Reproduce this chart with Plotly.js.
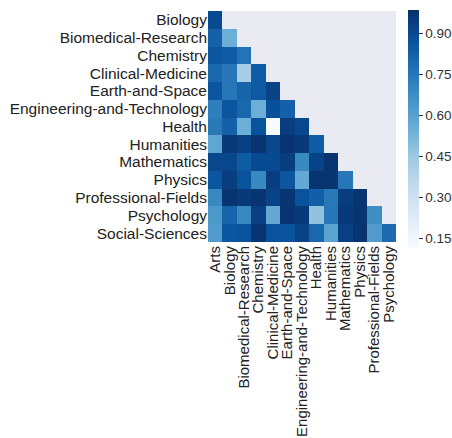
<!DOCTYPE html>
<html>
<head>
<meta charset="utf-8">
<script src="https://cdn.plot.ly/plotly-3.0.1.min.js"></script>
<style>html,body{margin:0;padding:0;background:#fff;}#chart{width:452px;height:438px;}</style>
</head>
<body>
<div id="chart"></div>
<script>
const columns = ["Arts","Biology","Biomedical-Research","Chemistry","Clinical-Medicine","Earth-and-Space","Engineering-and-Technology","Health","Humanities","Mathematics","Physics","Professional-Fields","Psychology"];
const rows = ["Biology","Biomedical-Research","Chemistry","Clinical-Medicine","Earth-and-Space","Engineering-and-Technology","Health","Humanities","Mathematics","Physics","Professional-Fields","Psychology","Social-Sciences"];

// lower-triangle values, one array per row
const biology = [0.90];
const biomedical = [0.82, 0.55];
const chemistry = [0.86, 0.84, 0.76];
const clinical = [0.80, 0.75, 0.42, 0.84];
const earth = [0.86, 0.75, 0.81, 0.85, 0.92];
const engineering = [0.72, 0.86, 0.80, 0.55, 0.88, 0.82];
const health = [0.74, 0.82, 0.55, 0.87, 0.12, 0.94, 0.91];
const humanities = [0.58, 0.95, 0.93, 0.97, 0.91, 0.97, 0.95, 0.84];
const mathematics = [0.91, 0.91, 0.84, 0.90, 0.90, 0.94, 0.69, 0.92, 0.97];
const physics = [0.86, 0.94, 0.87, 0.69, 0.94, 0.86, 0.57, 0.97, 0.97, 0.75];
const professional = [0.69, 0.97, 0.95, 0.97, 0.92, 0.97, 0.87, 0.83, 0.74, 0.94, 0.97];
const psychology = [0.63, 0.81, 0.69, 0.93, 0.57, 0.97, 0.95, 0.47, 0.75, 0.95, 0.97, 0.67];
const social = [0.62, 0.86, 0.87, 0.97, 0.87, 0.87, 0.92, 0.80, 0.59, 0.93, 0.97, 0.62, 0.79];

const rowValues = [biology, biomedical, chemistry, clinical, earth, engineering, health, humanities, mathematics, physics, professional, psychology, social];
const z = rowValues.map(r => columns.map((c, j) => (j < r.length ? r[j] : null)));

const colorbarTicks = [0.15, 0.30, 0.45, 0.60, 0.75, 0.90];

const blues = [
  [0, "#f7fbff"], [0.125, "#deebf7"], [0.25, "#c6dbef"], [0.375, "#9ecae1"],
  [0.5, "#6baed6"], [0.625, "#4292c6"], [0.75, "#2171b5"], [0.875, "#08519c"], [1, "#08306b"]
];

const FONT = "Liberation Sans, Arial, sans-serif";

const trace = {
  type: "heatmap",
  x: columns,
  y: rows,
  z: z,
  zmin: 0.117,
  zmax: 0.984,
  colorscale: blues,
  hoverongaps: false,
  colorbar: {
    thickness: 11,
    lenmode: "pixels",
    len: 237,
    x: 1.064,
    xanchor: "left",
    y: 1.004,
    yanchor: "top",
    outlinewidth: 0,
    ticks: "outside",
    ticklen: 4,
    tickwidth: 1,
    tickcolor: "#333",
    tickvals: colorbarTicks,
    ticktext: colorbarTicks.map(v => v.toFixed(2)),
    tickfont: {family: FONT, size: 13.5, color: "#333"},
    xpad: 0, ypad: 0
  }
};

const layout = {
  width: 452,
  height: 438,
  margin: {l: 208, r: 56, t: 11, b: 196, pad: 0, autoexpand: false},
  paper_bgcolor: "#ffffff",
  plot_bgcolor: "#eaeaf2",
  font: {family: FONT, size: 15.5, color: "#222"},
  xaxis: {
    type: "category",
    tickmode: "array",
    tickvals: columns,
    ticktext: columns,
    categoryorder: "array",
    categoryarray: columns,
    tickangle: -90,
    showgrid: false,
    zeroline: false,
    showline: false,
    ticks: "",
    automargin: false,
    tickfont: {family: FONT, size: 15, color: "#222"}
  },
  yaxis: {
    type: "category",
    tickmode: "array",
    tickvals: rows,
    ticktext: rows,
    categoryorder: "array",
    categoryarray: rows,
    autorange: "reversed",
    showgrid: false,
    zeroline: false,
    showline: false,
    ticks: "",
    automargin: false,
    tickfont: {family: FONT, size: 15.5, color: "#222"}
  }
};

Plotly.newPlot("chart", [trace], layout, {displayModeBar: false, staticPlot: true});
</script>
</body>
</html>
